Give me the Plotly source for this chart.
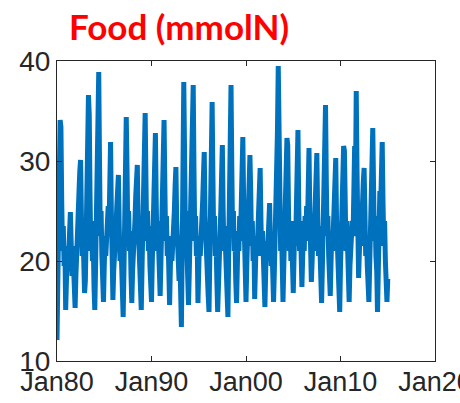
import plotly.graph_objects as go

# Monthly values (Jan..Dec for each year)
food_1980s = [
    12.1, 17.5, 24.0, 30.5, 34.1, 33.4, 26.0, 21.0, 23.5, 19.5, 21.5, 15.1,
    17.0, 21.0, 19.0, 22.5, 20.5, 24.9, 22.0, 18.5, 21.5, 19.0, 17.0, 15.3,
    18.5, 22.0, 20.0, 24.0, 27.0, 29.0, 30.1, 24.5, 20.5, 23.0, 19.5, 16.8,
    18.0, 22.5, 27.0, 31.0, 36.6, 34.6, 26.5, 21.0, 24.0, 20.0, 22.0, 17.5,
    15.1, 19.5, 24.0, 29.0, 33.0, 38.9, 30.0, 22.5, 25.0, 20.5, 17.0, 15.9,
    19.5, 22.5, 20.5, 24.0, 22.0, 25.5, 23.0, 28.0, 31.9, 25.0, 20.0, 16.1,
    19.0, 22.0, 20.5, 23.5, 25.5, 27.0, 28.6, 23.5, 20.0, 22.5, 19.0, 16.5,
    14.4, 19.0, 24.5, 29.5, 34.4, 29.0, 22.0, 25.0, 21.0, 23.0, 18.5, 15.8,
    19.0, 22.5, 20.5, 24.0, 26.5, 28.5, 29.6, 24.0, 20.5, 22.5, 18.5, 15.1,
    19.5, 23.0, 27.0, 31.0, 34.8, 28.0, 22.0, 25.0, 21.0, 23.5, 19.5, 17.0,
]
food_1990s = [
    15.9, 20.0, 24.5, 28.5, 30.5, 32.8, 26.0, 21.0, 24.0, 20.0, 22.0, 16.5,
    20.0, 23.5, 27.5, 31.0, 34.1, 27.5, 22.0, 24.5, 20.5, 22.5, 19.0, 15.6,
    19.5, 22.0, 20.0, 23.5, 21.5, 25.0, 27.5, 29.4, 24.0, 20.5, 22.5, 18.0,
    20.5, 17.0, 13.4, 21.0, 29.0, 37.9, 31.0, 23.0, 25.0, 21.0, 19.0, 15.6,
    19.0, 22.5, 26.5, 31.5, 35.0, 37.6, 29.0, 22.0, 24.5, 20.5, 22.0, 15.8,
    19.5, 22.5, 20.5, 24.0, 22.0, 26.0, 28.5, 30.9, 24.5, 20.5, 22.5, 18.5,
    16.5, 14.9, 20.0, 26.0, 31.0, 35.9, 28.5, 22.0, 24.5, 20.5, 22.0, 18.0,
    14.9, 17.5, 22.0, 20.5, 25.0, 28.5, 31.6, 25.0, 21.0, 23.5, 20.0, 17.5,
    16.0, 14.4, 20.5, 27.0, 32.5, 37.6, 29.5, 22.5, 25.0, 21.0, 22.5, 18.0,
    15.8, 19.5, 23.0, 21.0, 24.5, 22.0, 25.5, 28.5, 32.4, 26.0, 21.0, 18.0,
]
food_2000s = [
    15.9, 19.5, 23.5, 21.5, 26.5, 30.6, 27.0, 21.5, 24.0, 20.0, 22.0, 16.2,
    19.5, 22.5, 20.5, 24.0, 26.5, 27.5, 29.3, 24.0, 20.5, 23.0, 19.5, 17.0,
    15.4, 19.0, 22.0, 20.0, 23.0, 24.5, 25.8, 22.0, 19.5, 21.5, 18.0, 15.9,
    19.0, 22.5, 21.0, 27.0, 33.0, 39.5, 33.5, 25.0, 21.0, 23.5, 19.5, 15.9,
    19.5, 23.0, 26.5, 29.5, 32.3, 31.6, 25.0, 21.0, 24.0, 20.0, 22.5, 18.5,
    16.8, 20.5, 24.0, 21.5, 26.0, 30.0, 33.1, 25.5, 21.0, 24.0, 20.5, 17.4,
    20.5, 23.5, 21.0, 24.5, 22.0, 25.5, 23.0, 29.5, 31.3, 25.0, 21.0, 17.9,
    20.0, 23.0, 21.0, 24.5, 27.0, 28.5, 30.8, 25.0, 20.5, 23.5, 19.5, 17.5,
    15.8, 19.5, 23.5, 21.5, 28.0, 35.6, 28.0, 22.5, 24.5, 20.5, 19.0, 16.5,
    20.0, 23.0, 21.0, 24.0, 26.5, 28.0, 30.3, 24.0, 20.5, 22.5, 19.0, 14.9,
]
food_2010s = [
    19.5, 23.0, 26.5, 29.0, 31.5, 31.0, 25.0, 21.0, 24.0, 20.5, 22.0, 15.9,
    19.5, 22.5, 21.0, 24.0, 22.5, 26.0, 31.5, 27.0, 37.0, 29.0, 22.0, 18.3,
    21.0, 23.5, 21.5, 25.0, 27.0, 28.0, 29.3, 24.5, 20.5, 22.5, 19.5, 17.0,
    15.9, 19.5, 23.5, 21.5, 27.0, 33.3, 27.5, 22.0, 24.5, 20.5, 19.0, 14.9,
    19.5, 23.0, 27.0, 25.5, 29.0, 31.9, 26.0, 21.5, 24.0, 20.0, 18.5, 15.9,
    18.2,
]

start_year = 1980
tick_dates = ["1980-01-01", "1990-01-01", "2000-01-01", "2010-01-01", "2020-01-01"]
tick_labels = ["Jan80", "Jan90", "Jan00", "Jan10", "Jan20"]
y_ticks = [10, 20, 30, 40]

values = food_1980s + food_1990s + food_2000s + food_2010s
dates = [f"{start_year + i // 12}-{i % 12 + 1:02d}-01" for i in range(len(values))]

fig = go.Figure()
fig.add_trace(go.Scatter(
    x=dates, y=values, mode="lines",
    line=dict(color="#0072BD", width=5),
    hoverinfo="skip",
))

x_font = dict(family="Liberation Sans, Arial, sans-serif", size=27, color="#262626")
y_font = dict(family="Liberation Sans, Arial, sans-serif", size=28, color="#262626")
fig.update_layout(
    width=460, height=403,
    margin=dict(l=57, r=25, t=61, b=42, autoexpand=False),
    paper_bgcolor="white", plot_bgcolor="white",
    showlegend=False,
    xaxis=dict(
        type="date", range=["1980-01-01", "2020-01-01"],
        tickmode="array", tickvals=tick_dates, ticktext=tick_labels,
        ticks="inside", ticklen=5, tickcolor="#262626", tickwidth=1,
        showline=True, linecolor="#262626", linewidth=1, mirror="ticks",
        showgrid=False, zeroline=False, tickfont=x_font, automargin=False,
        ticklabeloverflow="allow", ticklabelstandoff=-3,
    ),
    yaxis=dict(
        range=[10, 40], tickmode="array", tickvals=y_ticks,
        ticks="inside", ticklen=5, tickcolor="#262626", tickwidth=1,
        showline=True, linecolor="#262626", linewidth=1, mirror="ticks",
        showgrid=False, zeroline=False, tickfont=y_font, automargin=False,
        ticklabeloverflow="allow",
    ),
    annotations=[dict(
        text="<b>Food (mmolN)</b>", xref="paper", yref="paper",
        x=0.323, y=1.117, xanchor="center", yanchor="middle", showarrow=False,
        font=dict(family="Lato, Open Sans, sans-serif", size=35, color="#FF0000"),
    )],
)

fig.write_html("out.html")
